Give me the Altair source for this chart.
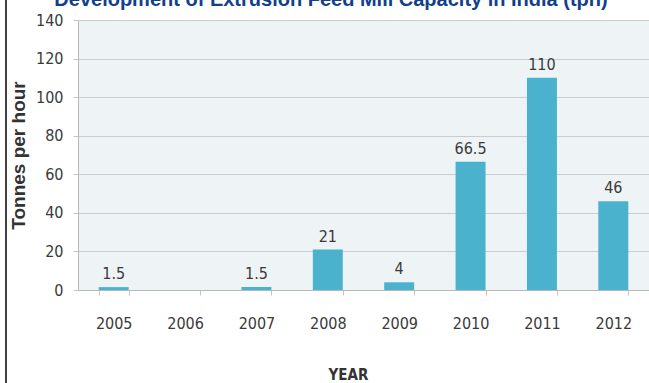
import altair as alt
import pandas as pd

years = ["2005", "2006", "2007", "2008", "2009", "2010", "2011", "2012"]
values = [1.5, 0, 1.5, 21, 4, 66.5, 110, 46]
value_labels = ["1.5", "", "1.5", "21", "4", "66.5", "110", "46"]
y_ticks = [0, 20, 40, 60, 80, 100, 120, 140]
chart_title = "Development of Extrusion Feed Mill Capacity in India (tph)"

df = pd.DataFrame({"year": years, "tph": values, "label": value_labels})
frame_df = pd.DataFrame({"k": [0]})

FONT = "DejaVu Sans Condensed, Liberation Sans, sans-serif"
TEXT_COLOR = "#3a3a3a"

x_enc = alt.X(
    "year:N",
    sort=years,
    title="YEAR",
    scale=alt.Scale(paddingInner=0.58, paddingOuter=0.29),
    axis=alt.Axis(
        labelAngle=0,
        labelFont=FONT,
        labelFontSize=16,
        labelColor=TEXT_COLOR,
        labelPadding=20,
        tickSize=5,
        tickBand="extent",
        tickColor="#c4c4c4",
        domainColor="#b8b8b8",
        titleFont=FONT,
        titleFontSize=15,
        titleFontWeight="bold",
        titleColor="#333333",
        titleX=270,
        titleY=84,
        titleAlign="center",
        titleBaseline="middle",
    ),
)

y_enc = alt.Y(
    "tph:Q",
    title="Tonnes per hour",
    scale=alt.Scale(domain=[0, 140], nice=False),
    axis=alt.Axis(
        values=y_ticks,
        labelOverlap=False,
        labelFont=FONT,
        labelFontSize=16,
        labelColor=TEXT_COLOR,
        labelPadding=10,
        tickSize=5,
        tickColor="#c4c4c4",
        domainColor="#b8b8b8",
        gridColor="#c9cdd1",
        titleFont="Liberation Sans",
        titleFontSize=19,
        titleFontWeight="bold",
        titleColor="#333333",
        titleX=-60,
        titleY=135,
        titleAngle=-90,
        titleAlign="center",
        titleBaseline="middle",
    ),
)

bars = alt.Chart(df).mark_bar(color="#4bb2ce").encode(x=x_enc, y=y_enc)

text = alt.Chart(df).mark_text(
    baseline="alphabetic", dy=-8, font=FONT, fontSize=16, color=TEXT_COLOR
).encode(x=x_enc, y=y_enc, text="label:N")

border = alt.Chart(frame_df).mark_rule(color="#000000", strokeWidth=1.5).encode(
    x=alt.value(-72), y=alt.value(-20), y2=alt.value(363)
)

title_text = alt.Chart(frame_df).mark_text(
    text=chart_title,
    font="Liberation Sans",
    fontSize=20,
    fontWeight="bold",
    color="#123f8c",
    align="center",
    baseline="alphabetic",
).encode(x=alt.value(253), y=alt.value(-14))

chart = (
    alt.layer(bars, text, border, title_text)
    .properties(
        width=571,
        height=270,
        autosize=alt.AutoSizeParams(type="none"),
        padding={"left": 78, "top": 20, "right": 0, "bottom": 93},
    )
    .configure_view(fill="#eef3f6", strokeWidth=0)
)

chart.save("out.html", embed_options={"renderer": "svg", "actions": False})
